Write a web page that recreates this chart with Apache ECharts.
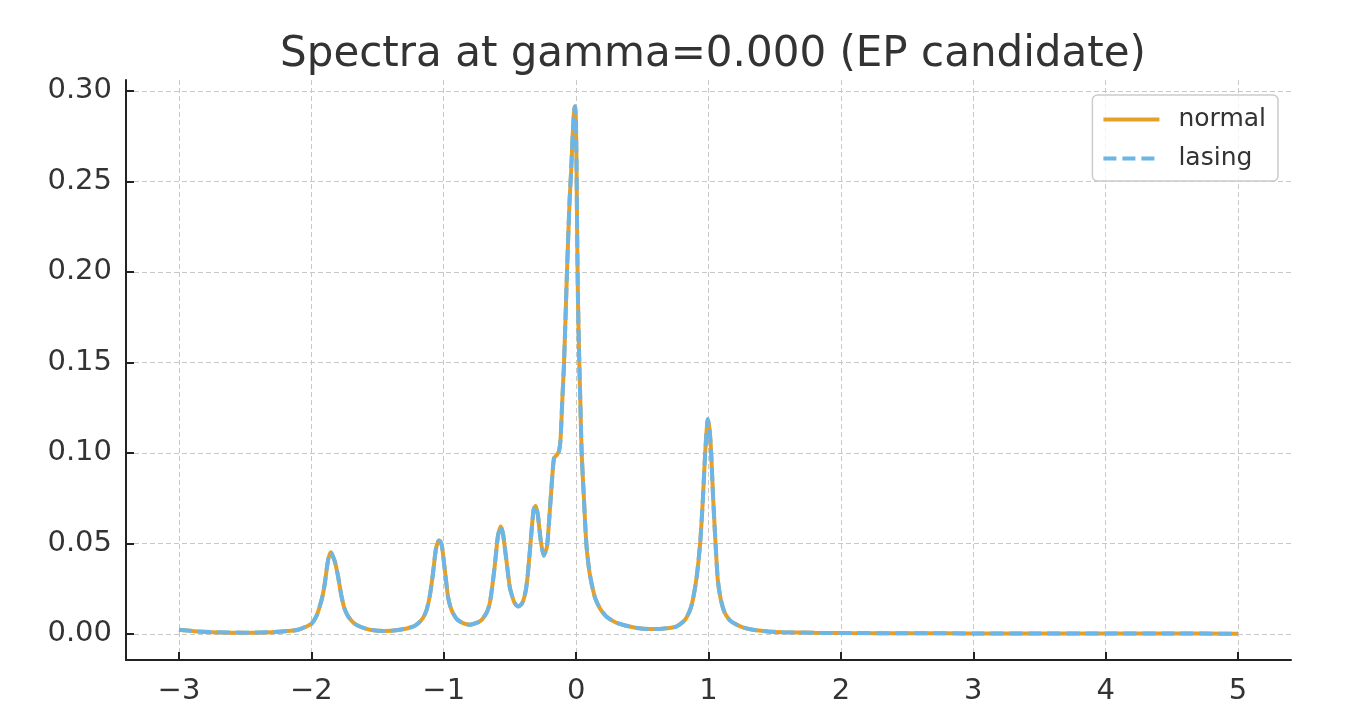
<!DOCTYPE html>
<html>
<head>
<meta charset="utf-8">
<title>Spectra at gamma=0.000</title>
<script src="https://cdn.jsdelivr.net/npm/echarts@6/dist/echarts.min.js"></script>
<style>
  html, body { margin: 0; padding: 0; background: #fff; }
  #chart { width: 1360px; height: 712px; }
</style>
</head>
<body>
<div id="chart"></div>
<script>
  // frequency axis
  var freq = [
    -3.0, -2.9, -2.75, -2.5, -2.3, -2.2, -2.1, -2.0, -1.96, -1.937, -1.915, -1.898,
    -1.873, -1.853, -1.838, -1.823, -1.81, -1.798, -1.785, -1.772, -1.75, -1.722,
    -1.68, -1.634, -1.558, -1.45, -1.332, -1.232, -1.19, -1.157, -1.13, -1.106,
    -1.081, -1.06, -1.038, -1.025, -1.013, -0.992, -0.968, -0.95, -0.93, -0.9,
    -0.855, -0.804, -0.728, -0.678, -0.655, -0.64, -0.615, -0.591, -0.57, -0.553,
    -0.527, -0.502, -0.48, -0.464, -0.439, -0.42, -0.402, -0.38, -0.364, -0.338,
    -0.321, -0.306, -0.289, -0.268, -0.245, -0.22, -0.2, -0.182, -0.167, -0.145,
    -0.13, -0.118, -0.105, -0.091, -0.069, -0.049, -0.038, -0.025, -0.015, -0.008,
    -0.002, 0.003, 0.008, 0.014, 0.024, 0.033, 0.042, 0.057, 0.077, 0.102, 0.14,
    0.18, 0.228, 0.3, 0.379, 0.46, 0.555, 0.65, 0.756, 0.82, 0.86, 0.882, 0.91,
    0.937, 0.958, 0.975, 0.995, 1.008, 1.02, 1.035, 1.053, 1.07, 1.09, 1.12, 1.16,
    1.2, 1.26, 1.335, 1.45, 1.56, 1.8, 2.0, 2.5, 3.0, 3.5, 4.0, 4.5, 5.0
  ];
  // normal spectrum
  var normalY = [
    0.0022, 0.0015, 0.0009, 0.0006, 0.0009, 0.0014, 0.0022, 0.0055, 0.010, 0.015, 0.021, 0.028,
    0.041, 0.045, 0.043, 0.040, 0.036, 0.0317, 0.026, 0.0206, 0.014, 0.0096,
    0.006, 0.004, 0.0022, 0.0015, 0.0022, 0.004, 0.006, 0.0087, 0.013, 0.0206,
    0.0335, 0.0464, 0.0516, 0.051, 0.0482, 0.0354, 0.0206, 0.015, 0.0114, 0.008,
    0.0059, 0.005, 0.0068, 0.0114, 0.016, 0.0225, 0.0372, 0.0538, 0.0593, 0.0556,
    0.0409, 0.0261, 0.020, 0.017, 0.0151, 0.0158, 0.0178, 0.024, 0.0335, 0.0556,
    0.0685, 0.0707, 0.0657, 0.0519, 0.0431, 0.0482, 0.0667, 0.085, 0.097, 0.0989,
    0.1007, 0.107, 0.128, 0.15, 0.20, 0.24, 0.255, 0.277, 0.289, 0.2915,
    0.285, 0.26, 0.22, 0.185, 0.15, 0.125, 0.0995, 0.0777, 0.05, 0.0335, 0.0206,
    0.014, 0.0096, 0.0062, 0.0044, 0.0032, 0.0026, 0.0028, 0.004, 0.0075, 0.013, 0.0188, 0.031,
    0.05, 0.075, 0.10, 0.1186, 0.113, 0.10, 0.075, 0.05, 0.03, 0.02, 0.012, 0.0075,
    0.0055, 0.0035, 0.0022, 0.0013, 0.0009, 0.0005, 0.0004, 0.0003, 0.0002, 0.00015, 0.0001, 0.0001, 0.00005
  ];
  // lasing spectrum (coincides with normal at gamma = 0)
  var lasingY = normalY.slice();

  var xTicks = [-3, -2, -1, 0, 1, 2, 3, 4, 5];
  var yTicks = [0, 0.05, 0.10, 0.15, 0.20, 0.25, 0.30];

  function pairs(xs, ys) {
    var out = [];
    for (var i = 0; i < xs.length; i++) out.push([xs[i], ys[i]]);
    return out;
  }

  var FONT = '"DejaVu Sans", sans-serif';
  var ORANGE = '#E5A02A', BLUE = '#6BB6E6';
  var gridLine = { show: true, lineStyle: { color: '#c8c8c8', width: 1, type: [5, 3] } };
  var axisLine = { show: true, onZero: false, lineStyle: { color: '#222', width: 2 } };

  var chart = echarts.init(document.getElementById('chart'));
  chart.setOption({
    animation: false,
    backgroundColor: '#fff',
    title: {
      text: 'Spectra at gamma=0.000 (EP candidate)',
      left: 708, textAlign: 'center', top: 29,
      textStyle: { fontFamily: FONT, fontSize: 42, fontWeight: 'normal', color: '#333' }
    },
    legend: {
      data: [
        { name: 'normal', itemStyle: { opacity: 0 }, lineStyle: { width: 4 } },
        { name: 'lasing', itemStyle: { opacity: 0 }, lineStyle: { width: 4 } }
      ],
      orient: 'vertical',
      right: 82, top: 95,
      padding: [12, 12, 10, 9],
      itemWidth: 56, itemHeight: 14, itemGap: 14,
      borderColor: '#cccccc', borderWidth: 1.5, borderRadius: 5,
      backgroundColor: 'rgba(255,255,255,0.8)',
      textStyle: { fontFamily: FONT, fontSize: 25, color: '#333', padding: [0, 0, 0, 14] }
    },
    grid: { left: 126, right: 69, top: 80, bottom: 52, containLabel: false },
    xAxis: {
      type: 'value', min: -3.4, max: 5.4,
      axisLine: axisLine,
      axisTick: { show: true, inside: true, length: 8, lineStyle: { color: '#222', width: 2 }, customValues: xTicks },
      axisLabel: {
        customValues: xTicks, margin: 17,
        fontFamily: FONT, fontSize: 29, color: '#333',
        formatter: function (v) { return v < 0 ? '\u2212' + Math.abs(v) : String(v); }
      },
      splitLine: gridLine
    },
    yAxis: {
      type: 'value', min: -0.0145, max: 0.306,
      axisLine: axisLine,
      axisTick: { show: true, inside: true, length: 8, lineStyle: { color: '#222', width: 2 }, customValues: yTicks },
      axisLabel: {
        customValues: yTicks, margin: 14,
        fontFamily: FONT, fontSize: 29, color: '#333',
        formatter: function (v) { return v.toFixed(2); }
      },
      splitLine: gridLine
    },
    series: [
      {
        name: 'normal', type: 'line', data: pairs(freq, normalY),
        showSymbol: false, symbol: 'none', smooth: 0.2, z: 2,
        color: ORANGE,
        lineStyle: { color: ORANGE, width: 4 }
      },
      {
        name: 'lasing', type: 'line', data: pairs(freq, lasingY),
        showSymbol: false, symbol: 'none', smooth: 0.2, z: 3,
        color: BLUE,
        lineStyle: { color: BLUE, width: 4, type: [13, 6] }
      }
    ]
  });
</script>
</body>
</html>
